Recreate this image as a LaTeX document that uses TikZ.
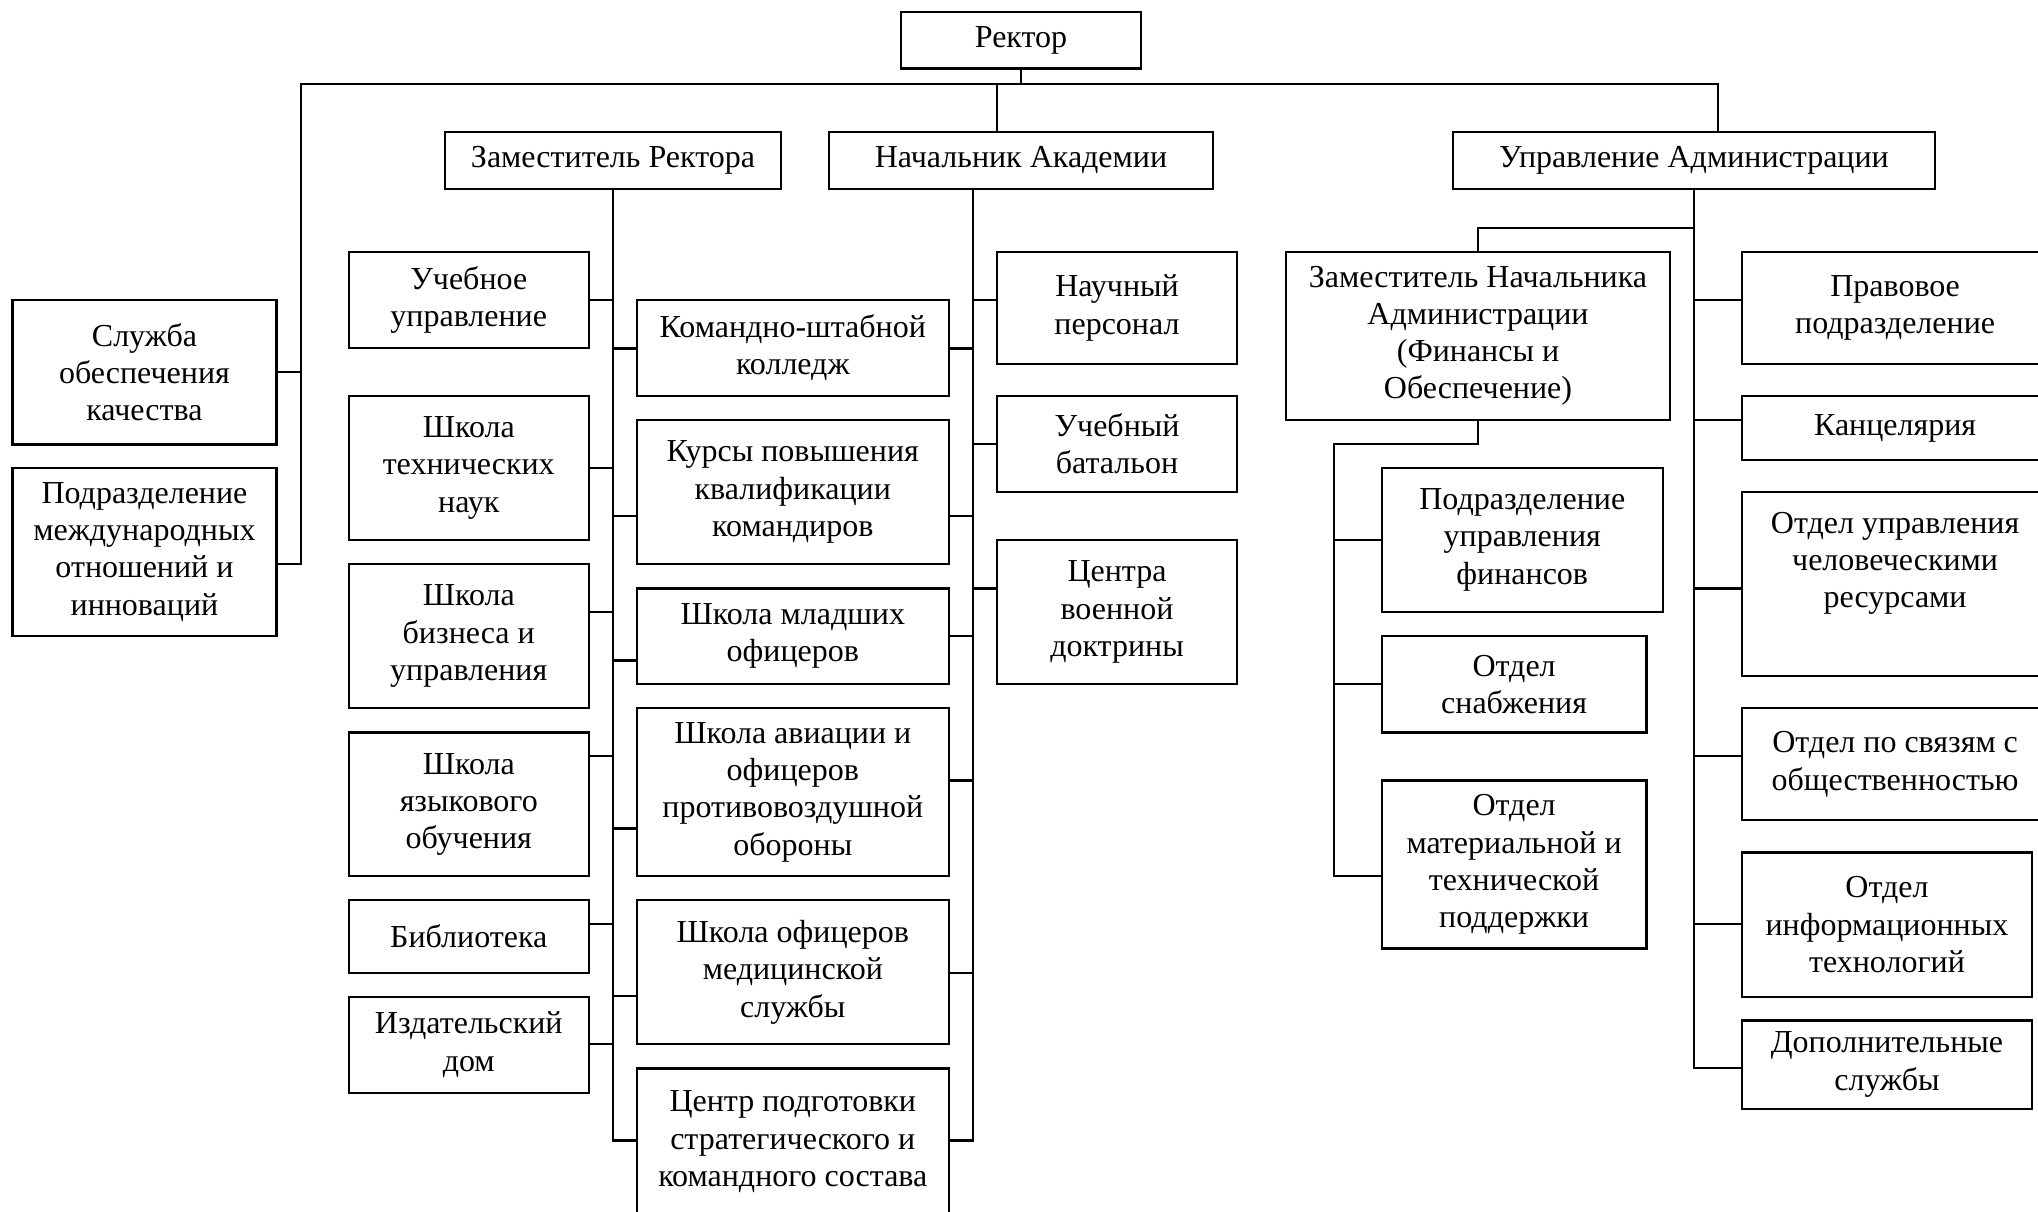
\documentclass[tikz,border=0pt]{standalone}
\usepackage{fontspec}
\setmainfont{Liberation Serif}

\begin{document}
\begin{tikzpicture}[x=0.5pt,y=-0.5pt,
    unit/.style={draw, line width=1.1pt, inner sep=0pt, align=center,
      font=\fontsize{16}{18.6}\selectfont},
    cell/.style args={#1:#2:#3:#4}{minimum width={(#3-#1)*0.5pt},
      minimum height={(#4-#2)*0.5pt}, at={({(#1+#3)/2},{(#2+#4)/2})}},
    link/.style={line width=1.1pt, line cap=rect}]
  \useasboundingbox (0,0) rectangle (2038,1211);

  \node[unit, cell=901:11.9:1141:68.4] (rector) {Ректор};
  \node[unit, cell=445:131.7:781:188.6] (zamrek) {Заместитель Ректора};
  \node[unit, cell=829:131.7:1213:188.6] (nachak) {Начальник Академии};
  \node[unit, cell=1453:131.7:1935:188.6] (uprav) {Управление Администрации};

  \node[unit, cell=12.4:299.7:276.5:444.4] (kachestvo) {Служба\\обеспечения\\качества};
  \node[unit, cell=12.4:468:276.5:636] (mezhdunar) {Подразделение\\международных\\отношений и\\инноваций};

  \node[unit, cell=348.7:251.9:588.8:348] (uchupr) {Учебное\\управление};
  \node[unit, cell=348.7:395.8:588.8:540] (techn) {Школа\\технических\\наук};
  \node[unit, cell=348.7:564:588.8:708.3] (biznes) {Школа\\бизнеса и\\управления};
  \node[unit, cell=348.7:732.5:588.8:876.3] (yazyk) {Школа\\языкового\\обучения};
  \node[unit, cell=348.7:900:588.8:973] (biblio) {Библиотека};
  \node[unit, cell=348.7:996.7:588.8:1092.6] (izdat) {Издательский\\дом};

  \node[unit, cell=637:299.7:948.6:395.8] (kshk) {Командно-штабной\\колледж};
  \node[unit, cell=637:420:948.6:563.9] (kursy) {Курсы повышения\\квалификации\\командиров};
  \node[unit, cell=637:588.4:948.6:684.2] (mladsh) {Школа младших\\офицеров};
  \node[unit, cell=637:708.3:948.6:876.3] (aviac) {Школа авиации и\\офицеров\\противовоздушной\\обороны};
  \node[unit, cell=637:900:948.6:1044.3] (medic) {Школа офицеров\\медицинской\\службы};
  \node[unit, cell=637:1068.4:948.6:1215] (strateg) {Центр подготовки\\стратегического и\\командного состава};

  \node[unit, cell=996.7:251.9:1237.3:363.8] (nauch) {Научный\\персонал};
  \node[unit, cell=996.7:395.8:1237.3:492.3] (batal) {Учебный\\батальон};
  \node[unit, cell=996.7:540:1237.3:684.2] (doktr) {Центра\\военной\\доктрины};

  \node[unit, cell=1286:251.9:1670:420] (zamnach) {Заместитель Начальника\\Администрации\\(Финансы и\\Обеспечение)};
  \node[unit, cell=1381.7:468:1662.8:611.7] (finans) {Подразделение\\управления\\финансов};
  \node[unit, cell=1381.7:636.2:1646.5:732.5] (snab) {Отдел\\снабжения};
  \node[unit, cell=1381.7:780.4:1646.5:948.4] (mattech) {Отдел\\материальной и\\технической\\поддержки};

  \node[unit, cell=1742.2:251.9:2048:363.8] (pravo) {Правовое\\подразделение};
  \node[unit, cell=1742.2:395.8:2048:460.3] (kanc) {Канцелярия};
  \node[unit, cell=1742.2:492.3:2048:676] (kadry) {Отдел управления\\человеческими\\ресурсами\\[5.4pt]\mbox{}};
  \node[unit, cell=1742.2:708.3:2048:820.2] (svyazi) {Отдел по связям с\\общественностью};
  \node[unit, cell=1742.2:852.5:2031.7:996.7] (inform) {Отдел\\информационных\\технологий};
  \node[unit, cell=1742.2:1020.5:2031.7:1108.6] (dopsl) {Дополнительные\\службы};

  \coordinate (busL) at (300.6,83.8);
  \coordinate (busN) at (996.7,83.8);
  \coordinate (busR) at (1718,83.8);
  \coordinate (nspine) at (972.7,188.6);
  \coordinate (zspine) at (1334.2,444);

  \draw[link] (rector.south) -- (rector.south |- busL);
  \draw[link] (busL) -- (busR);
  \draw[link] (busN) -- (busN |- nachak.north);
  \draw[link] (busR) -- (busR |- uprav.north);
  \draw[link] (busL) |- (mezhdunar.east |- 0,564);
  \draw[link] (kachestvo.east) -- (kachestvo.east -| busL);

  \draw[link] (zamrek.south) -- (zamrek.south |- 0,1140.5);
  \foreach \n/\y in {uchupr/299.7, techn/468, biznes/611.7, yazyk/756.3, biblio/923.8, izdat/1044.3}
    \draw[link] (\n.east |- 0,\y) -- (zamrek.south |- 0,\y);
  \foreach \n/\y in {kshk/348.4, kursy/516, mladsh/660.4, aviac/828.4, medic/996.3, strateg/1140.5}
    \draw[link] (\n.west |- 0,\y) -- (zamrek.south |- 0,\y);

  \draw[link] (nspine) -- (nspine |- 0,1140.5);
  \foreach \n/\y in {kshk/348.4, kursy/516, mladsh/636.2, aviac/780.4, medic/972.6, strateg/1140.5}
    \draw[link] (\n.east |- 0,\y) -- (nspine |- 0,\y);
  \foreach \n/\y in {nauch/299.7, batal/443.6, doktr/588.4}
    \draw[link] (\n.west |- 0,\y) -- (nspine |- 0,\y);

  \draw[link] (uprav.south) -- (uprav.south |- 0,1068);
  \draw[link] (uprav.south |- 0,227.8) -| (zamnach.north);
  \foreach \n/\y in {pravo/299.7, kanc/420, kadry/588.4, svyazi/756.3, inform/924.2, dopsl/1068}
    \draw[link] (\n.west |- 0,\y) -- (uprav.south |- 0,\y);

  \draw[link] (zamnach.south) |- (zspine) -- (zspine |- 0,876.3);
  \foreach \n/\y in {finans/540, snab/684.2, mattech/876.3}
    \draw[link] (\n.west |- 0,\y) -- (zspine |- 0,\y);
\end{tikzpicture}
\end{document}
